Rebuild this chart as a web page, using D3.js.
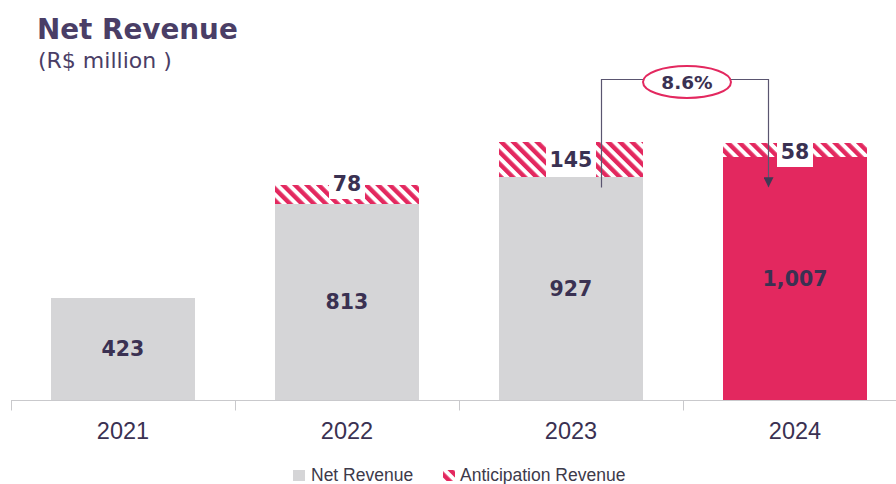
<!DOCTYPE html>
<html>
<head>
<meta charset="utf-8">
<script src="https://cdn.jsdelivr.net/npm/d3@7"></script>
<style>
  body { margin: 0; background: #fff; }
  svg { display: block; }
</style>
</head>
<body>
<div id="chart"></div>
<script>
// Data
const years = ["2021", "2022", "2023", "2024"];
const netRevenue = [423, 813, 927, 1007];
const anticipation = [0, 78, 145, 58];
const netLabels = ["423", "813", "927", "1,007"];
const antLabels = ["", "78", "145", "58"];
const antLabelDy = [0, -11, 0, 2];
const growthLabel = "8.6%";
const legendItems = ["Net Revenue", "Anticipation Revenue"];

const width = 896, height = 484;
const grey = "#d5d5d7", pink = "#e3285f", dark = "#3a3152", titleColor = "#4a3e66";

const svg = d3.select("#chart")
    .append("svg")
    .attr("width", width)
    .attr("height", height);

// Hatch pattern
const defs = svg.append("defs");
const pat = defs.append("pattern")
    .attr("id", "hatch")
    .attr("patternUnits", "userSpaceOnUse")
    .attr("width", 8.4)
    .attr("height", 8.4)
    .attr("patternTransform", "rotate(-45)");
pat.append("rect").attr("width", 8.4).attr("height", 8.4).attr("fill", "#fff");
pat.append("rect").attr("width", 4.4).attr("height", 8.4).attr("fill", pink);

defs.append("marker")
    .attr("id", "arrow")
    .attr("viewBox", "0 0 10 10")
    .attr("refX", 10).attr("refY", 5)
    .attr("markerWidth", 10).attr("markerHeight", 10)
    .attr("markerUnits", "userSpaceOnUse")
    .attr("orient", "auto")
    .append("path")
    .attr("d", "M0,0 L10,5 L0,10 Z")
    .attr("fill", "#3f3a55");

// Title
svg.append("text")
    .attr("x", 37).attr("y", 39)
    .attr("font-family", "DejaVu Sans")
    .attr("font-weight", "bold")
    .attr("font-size", 27.8)
    .attr("fill", titleColor)
    .text("Net Revenue");

svg.append("text")
    .attr("x", 38).attr("y", 68)
    .attr("font-family", "DejaVu Sans")
    .attr("font-size", 22)
    .attr("fill", titleColor)
    .text("(R$ million )");

// Scales
const x = d3.scaleBand()
    .domain(years)
    .range([11, 907])
    .paddingInner(0.357)
    .paddingOuter(0.1785);

const y = d3.scaleLinear()
    .domain([0, 1000])
    .range([400, 158.9]);

const yr0 = v => Math.round(y(v));

// Axis
const axis = svg.append("g")
    .attr("transform", "translate(0,400.5)");
axis.append("line")
    .attr("x1", 11).attr("x2", width)
    .attr("stroke", "#c9c9cc");
years.forEach((yr, i) => {
    const tx = Math.round(x(yr) - x.step() * x.paddingInner() / 2) + 0.5;
    axis.append("line")
        .attr("x1", tx).attr("x2", tx)
        .attr("y1", 0).attr("y2", 10)
        .attr("stroke", "#c9c9cc");
    axis.append("text")
        .attr("x", x(yr) + x.bandwidth() / 2)
        .attr("y", 38)
        .attr("text-anchor", "middle")
        .attr("font-family", "Liberation Sans")
        .attr("font-size", 23.5)
        .attr("fill", dark)
        .text(yr);
});

// Net revenue bars
svg.selectAll(".net")
    .data(years)
    .join("rect")
    .attr("class", "net")
    .attr("x", d => Math.round(x(d)))
    .attr("width", Math.round(x.bandwidth()))
    .attr("y", (d, i) => yr0(netRevenue[i]))
    .attr("height", (d, i) => yr0(0) - yr0(netRevenue[i]))
    .attr("fill", (d, i) => i === years.length - 1 ? pink : grey);

// Anticipation (hatched) segments
svg.selectAll(".ant")
    .data(years.filter((d, i) => anticipation[i] > 0))
    .join("rect")
    .attr("class", "ant")
    .attr("x", d => Math.round(x(d)))
    .attr("width", Math.round(x.bandwidth()))
    .attr("y", d => { const i = years.indexOf(d); return yr0(netRevenue[i] + anticipation[i]); })
    .attr("height", d => { const i = years.indexOf(d); return yr0(netRevenue[i]) - yr0(netRevenue[i] + anticipation[i]); })
    .attr("fill", "url(#hatch)");

// Net labels
svg.selectAll(".netLabel")
    .data(years)
    .join("text")
    .attr("class", "netLabel")
    .attr("x", d => x(d) + x.bandwidth() / 2)
    .attr("y", (d, i) => (y(netRevenue[i]) + y(0)) / 2)
    .attr("dy", "0.36em")
    .attr("text-anchor", "middle")
    .attr("font-family", "DejaVu Sans")
    .attr("font-weight", "bold")
    .attr("font-size", 20.5)
    .attr("fill", dark)
    .text((d, i) => netLabels[i]);

// Anticipation labels with white boxes
years.forEach((yr, i) => {
    if (!anticipation[i]) return;
    const top = yr0(netRevenue[i] + anticipation[i]);
    const bot = yr0(netRevenue[i]);
    const cy = (top + bot) / 2 + antLabelDy[i];
    const cx = x(yr) + x.bandwidth() / 2;
    const w = antLabels[i].length * 14 + 8;
    let y0, y1;
    if (i === 1) { y0 = cy - 10; y1 = cy + 15; }
    else { y0 = top - 1; y1 = Math.max(cy + 15, bot); }
    svg.append("rect")
        .attr("x", Math.round(cx - w / 2)).attr("width", w)
        .attr("y", Math.round(y0)).attr("height", Math.round(y1) - Math.round(y0))
        .attr("fill", "#fff");
    svg.append("text")
        .attr("x", cx).attr("y", cy)
        .attr("dy", "0.36em")
        .attr("text-anchor", "middle")
        .attr("font-family", "DejaVu Sans")
        .attr("font-weight", "bold")
        .attr("font-size", 20.5)
        .attr("fill", dark)
        .text(antLabels[i]);
});

// Growth annotation 2023 -> 2024
const lx = Math.round(x("2023") + x.bandwidth() * 0.71) + 0.5;
const rx = Math.round(x("2024") + x.bandwidth() * 0.31) + 0.5;
const ly = 79.5;
const ex = (lx + rx) / 2 + 2, ey = 82;
svg.append("path")
    .attr("d", `M${lx},${y(netRevenue[2]) + 11} V${ly} H${ex - 44}`)
    .attr("fill", "none")
    .attr("stroke", "#5a5570")
    .attr("stroke-width", 1.2);
svg.append("path")
    .attr("d", `M${ex + 44},${ly} H${rx} V${y(netRevenue[3]) + 30}`)
    .attr("fill", "none")
    .attr("stroke", "#5a5570")
    .attr("stroke-width", 1.2)
    .attr("marker-end", "url(#arrow)");
svg.append("ellipse")
    .attr("cx", ex).attr("cy", ey)
    .attr("rx", 44).attr("ry", 16)
    .attr("fill", "#fff")
    .attr("stroke", pink)
    .attr("stroke-width", 2);
svg.append("text")
    .attr("x", ex).attr("y", ey)
    .attr("dy", "0.36em")
    .attr("text-anchor", "middle")
    .attr("font-family", "DejaVu Sans")
    .attr("font-weight", "bold")
    .attr("font-size", 18.5)
    .attr("fill", dark)
    .text(growthLabel);

// Legend
const legend = svg.append("g").attr("transform", "translate(293,470)");
legend.append("rect")
    .attr("x", 0).attr("y", 0).attr("width", 12).attr("height", 11)
    .attr("fill", grey);
legend.append("text")
    .attr("x", 18).attr("y", 11)
    .attr("font-family", "Liberation Sans")
    .attr("font-size", 17.5)
    .attr("fill", "#3d3a4a")
    .text(legendItems[0]);
legend.append("rect")
    .attr("x", 150).attr("y", 0).attr("width", 12).attr("height", 11)
    .attr("fill", "url(#hatch)");
legend.append("text")
    .attr("x", 167).attr("y", 11)
    .attr("font-family", "Liberation Sans")
    .attr("font-size", 17.5)
    .attr("fill", "#3d3a4a")
    .text(legendItems[1]);
</script>
</body>
</html>
